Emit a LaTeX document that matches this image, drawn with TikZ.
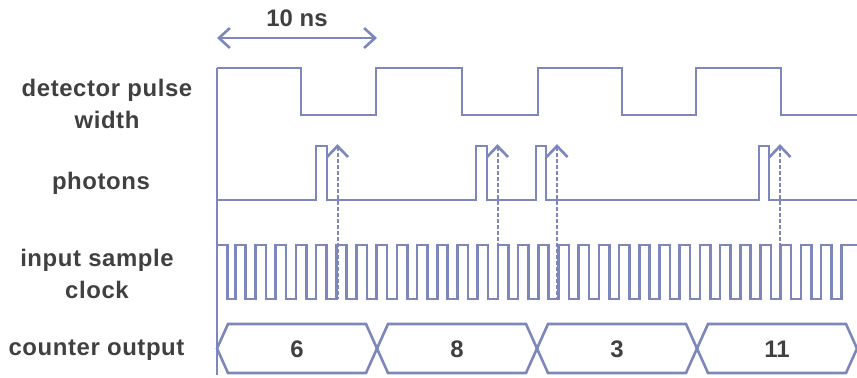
\documentclass[tikz,border=0pt]{standalone}
\usepackage{fontspec}
\setmainfont{Liberation Sans}
\newfontfamily\lblfont[LetterSpace=2.5]{Liberation Sans}
\usetikzlibrary{arrows.meta}
\definecolor{sigc}{RGB}{125,135,188}
\definecolor{txtc}{RGB}{64,64,64}
\begin{document}
\begin{tikzpicture}[x=1bp,y=-1bp,
  sig/.style={draw=sigc,line width=2.6bp,line join=miter},
  dashsig/.style={draw=sigc,line width=2bp,dash pattern=on 3.5bp off 2.5bp},
  lbl/.style={text=txtc,font=\lblfont\fontsize{24}{32}\selectfont\bfseries,align=center,inner sep=0pt},
  val/.style={text=txtc,font=\fontsize{24}{28}\selectfont\bfseries,inner sep=0pt}]
\useasboundingbox (0,0) rectangle (857,377);
% labels
\node[lbl] (ldet) at (107,104) {detector pulse\\width};
\node[lbl] (lpho) at (101,183) {photons};
\node[lbl] (lclk) at (97,274) {input sample\\clock};
\node[lbl] (lcnt) at (96.5,350) {counter output};
% 10 ns span
\node[val] (tns) at (297,18) {10 ns};
\coordinate (nsL) at (217,38);
\coordinate (nsR) at (377,38);
\draw[sig,{Straight Barb[length=11bp,width=20bp]}-{Straight Barb[length=11bp,width=20bp]}] (nsL) -- (nsR);
% time axis
\draw[sig] (217,68) -- (217,375);
% detector pulse width
\draw[sig] (217,68) -- (301,68) -- (301,115) -- (376,115) -- (376,68) -- (462,68) -- (462,115)
  -- (538,115) -- (538,68) -- (622,68) -- (622,115) -- (696,115) -- (696,68) -- (781,68)
  -- (781,115) -- (857,115);
% photons
\draw[sig] (217,200) -- (316,200) -- (316,146) -- (327,146) -- (327,200)
  -- (476,200) -- (476,146) -- (487,146) -- (487,200)
  -- (536,200) -- (536,146) -- (546,146) -- (546,200)
  -- (759,200) -- (759,146) -- (769,146) -- (769,200) -- (857,200);
% photon arrows
\foreach \x in {337.5,497.5,557,780}{
  \draw[dashsig] (\x,147) -- (\x,299);
  \draw[sig,line join=miter] (\x-10.5,157) -- (\x,146) -- (\x+10.5,157);
}
% input sample clock
\draw[sig] (217,245) -- (227.5,245) -- (227.5,299)
  \foreach \k in {1,...,30}{ -- ({215+20.2*\k},299) -- ({215+20.2*\k},245) -- ({225.5+20.2*\k},245) -- ({225.5+20.2*\k},299) }
  -- (841.2,299) -- (841.2,245) -- (857,245);
% counter output bus
\foreach \i/\v in {0/6,1/8,2/3,3/11}{
  \pgfmathsetmacro{\xa}{217+160*\i}
  \pgfmathsetmacro{\xb}{377+160*\i}
  \draw[sig] (\xa,348.5) -- (\xa+11,324) -- (\xb-11,324) -- (\xb,348.5) -- (\xb-11,373) -- (\xa+11,373) -- cycle;
  \node[val] (c\i) at ({(\xa+\xb)/2},349) {\v};
}
\end{tikzpicture}
\end{document}
